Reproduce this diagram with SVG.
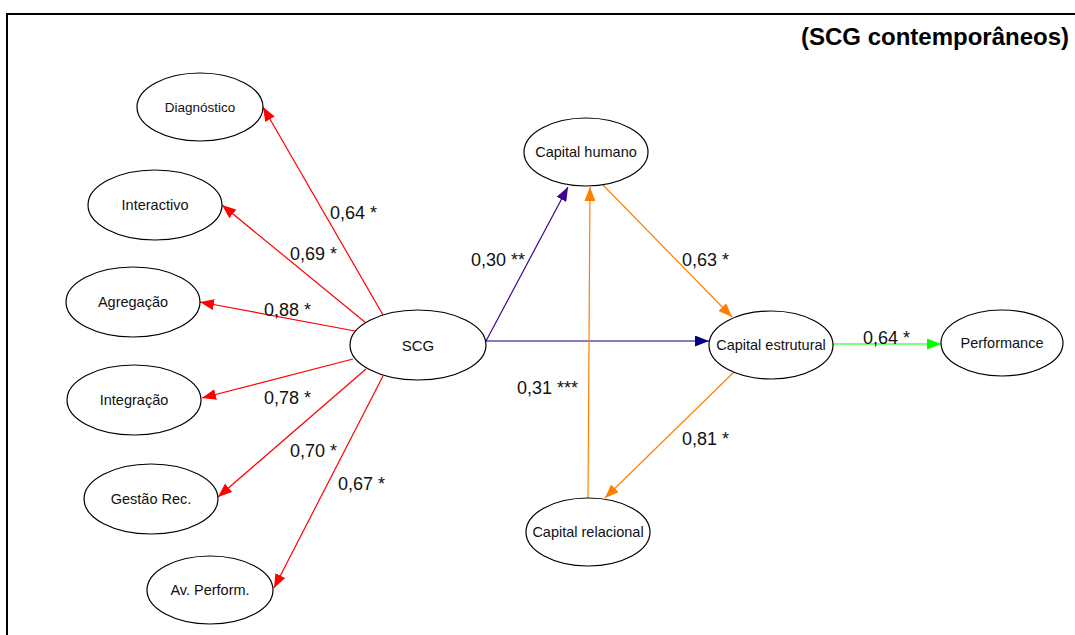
<svg xmlns="http://www.w3.org/2000/svg" width="1075" height="635" viewBox="0 0 1075 635">
<style>
.node ellipse{fill:#fff;stroke:#000;stroke-width:1.2}
.node text{font-family:"Liberation Sans",Arial,sans-serif;font-size:14.5px;fill:#111;text-anchor:middle}
.lbl{font-family:"Liberation Sans",Arial,sans-serif;font-size:18px;fill:#111}
.title{font-family:"Liberation Sans",Arial,sans-serif;font-size:24px;font-weight:bold;fill:#000;text-anchor:end}
.edges line{stroke-width:1.2;fill:none}
.r{stroke:#ff0000}
.o{stroke:#ff8000}
.p{stroke:#400090}
.b{stroke:#000080}
.g{stroke:#00ff00}
</style>
<defs>
<marker id="ar" markerWidth="14" markerHeight="11" refX="14" refY="5.5" orient="auto" markerUnits="userSpaceOnUse"><path d="M0,0 L14,5.5 L0,11 z" fill="#ff0000"/></marker>
<marker id="ao" markerWidth="14" markerHeight="11" refX="14" refY="5.5" orient="auto" markerUnits="userSpaceOnUse"><path d="M0,0 L14,5.5 L0,11 z" fill="#ff8000"/></marker>
<marker id="ap" markerWidth="14" markerHeight="11" refX="14" refY="5.5" orient="auto" markerUnits="userSpaceOnUse"><path d="M0,0 L14,5.5 L0,11 z" fill="#400090"/></marker>
<marker id="ab" markerWidth="14" markerHeight="11" refX="14" refY="5.5" orient="auto" markerUnits="userSpaceOnUse"><path d="M0,0 L14,5.5 L0,11 z" fill="#000080"/></marker>
<marker id="ag" markerWidth="14" markerHeight="11" refX="14" refY="5.5" orient="auto" markerUnits="userSpaceOnUse"><path d="M0,0 L14,5.5 L0,11 z" fill="#00ff00"/></marker>
</defs>
<rect width="1075" height="635" fill="#fff"/>
<path d="M7,635 L7,14 L1075,14" fill="none" stroke="#000" stroke-width="2"/>
<text class="title" x="1069" y="45">(SCG contemporâneos)</text>

<g id="connectors" class="edges">
<line class="r" x1="383" y1="315" x2="263" y2="107" marker-end="url(#ar)"/>
<line class="r" x1="366" y1="323" x2="222" y2="205" marker-end="url(#ar)"/>
<line class="r" x1="355" y1="331" x2="200" y2="302" marker-end="url(#ar)"/>
<line class="r" x1="353" y1="359" x2="202" y2="398" marker-end="url(#ar)"/>
<line class="r" x1="366" y1="369" x2="218" y2="497" marker-end="url(#ar)"/>
<line class="r" x1="383" y1="376" x2="274" y2="588" marker-end="url(#ar)"/>
<line class="p" x1="486" y1="341" x2="568" y2="187" marker-end="url(#ap)"/>
<line class="b" x1="486" y1="341" x2="709" y2="341" marker-end="url(#ab)"/>
<line class="o" x1="603" y1="185" x2="732" y2="317" marker-end="url(#ao)"/>
<line class="o" x1="734" y1="372" x2="605" y2="498" marker-end="url(#ao)"/>
<line class="o" x1="588" y1="498" x2="590" y2="187" marker-end="url(#ao)"/>
<line class="g" x1="833" y1="344" x2="941" y2="344" marker-end="url(#ag)"/>
<text class="lbl" x="330" y="219">0,64 *</text>
<text class="lbl" x="290" y="260">0,69 *</text>
<text class="lbl" x="264" y="316">0,88 *</text>
<text class="lbl" x="264" y="404">0,78 *</text>
<text class="lbl" x="290" y="457">0,70 *</text>
<text class="lbl" x="338" y="490">0,67 *</text>
<text class="lbl" x="471" y="266">0,30 **</text>
<text class="lbl" x="682" y="266">0,63 *</text>
<text class="lbl" x="517" y="394">0,31 ***</text>
<text class="lbl" x="682" y="445">0,81 *</text>
<text class="lbl" x="863" y="344">0,64 *</text>
</g>

<g id="n-diagnostico" class="node"><ellipse cx="200" cy="107" rx="63" ry="34"/><text x="200" y="112" style="font-size:13.5px">Diagnóstico</text></g>
<g id="n-interactivo" class="node"><ellipse cx="155" cy="205" rx="67" ry="35"/><text x="155" y="210">Interactivo</text></g>
<g id="n-agregacao" class="node"><ellipse cx="133" cy="302" rx="67" ry="35"/><text x="133" y="307">Agregação</text></g>
<g id="n-integracao" class="node"><ellipse cx="134" cy="400" rx="67" ry="35"/><text x="134" y="405">Integração</text></g>
<g id="n-gestao" class="node"><ellipse cx="151" cy="499" rx="67" ry="35"/><text x="151" y="504">Gestão Rec.</text></g>
<g id="n-avperform" class="node"><ellipse cx="210" cy="590" rx="63" ry="34"/><text x="210" y="595">Av. Perform.</text></g>
<g id="n-scg" class="node"><ellipse cx="418" cy="345" rx="68" ry="35"/><text x="418" y="351" style="font-size:15px">SCG</text></g>
<g id="n-humano" class="node"><ellipse cx="586" cy="152" rx="62" ry="34"/><text x="586" y="157">Capital humano</text></g>
<g id="n-estrutural" class="node"><ellipse cx="771" cy="345" rx="62" ry="34"/><text x="771" y="350">Capital estrutural</text></g>
<g id="n-relacional" class="node"><ellipse cx="588" cy="532" rx="62" ry="34"/><text x="588" y="537">Capital relacional</text></g>
<g id="n-performance" class="node"><ellipse cx="1002" cy="343" rx="61" ry="33"/><text x="1002" y="348">Performance</text></g>
</svg>
